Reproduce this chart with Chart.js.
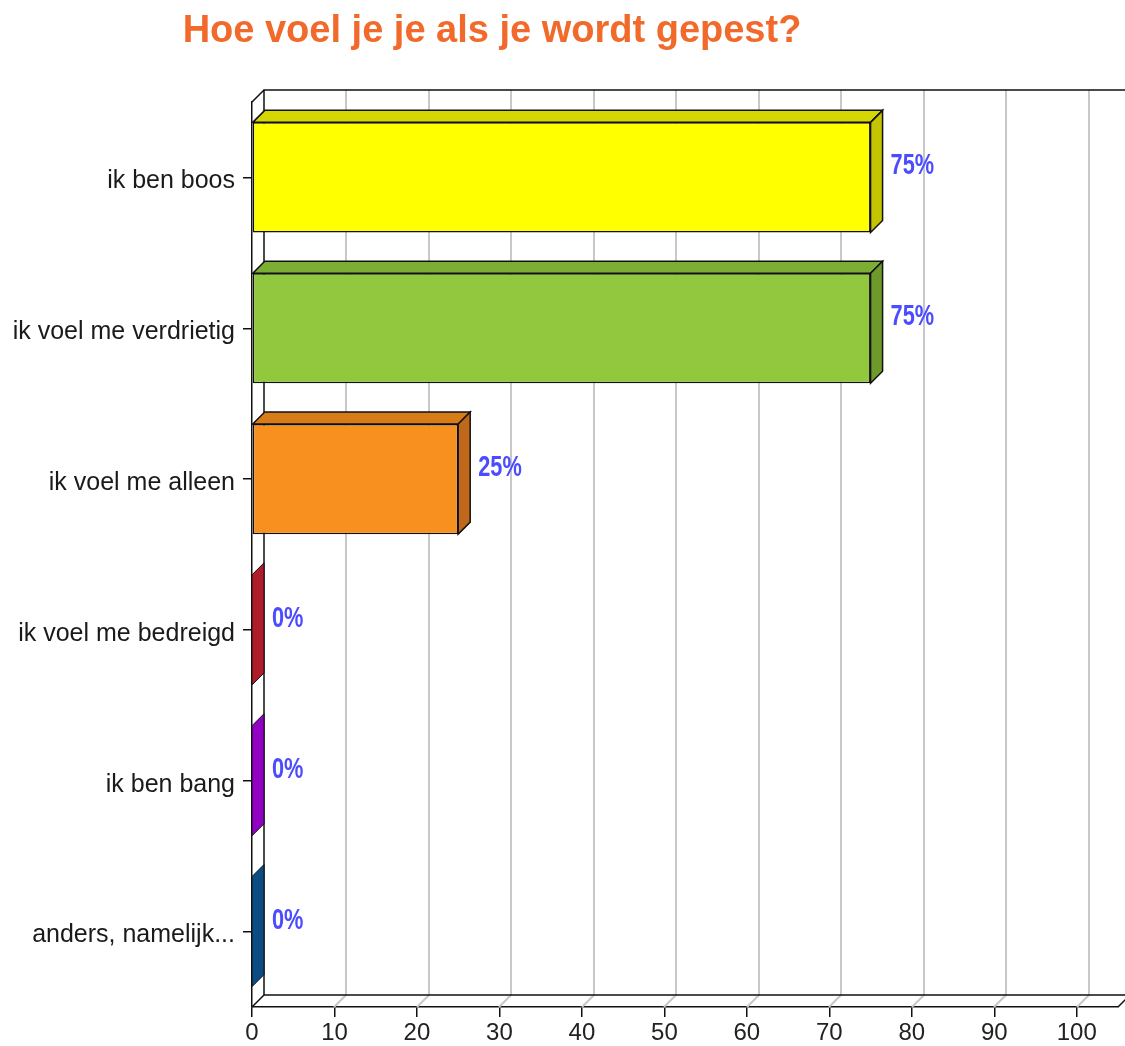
<!DOCTYPE html>
<html>
<head>
<meta charset="utf-8">
<script src="https://cdn.jsdelivr.net/npm/chart.js@4/dist/chart.umd.min.js"></script>
<style>
  html, body { margin: 0; padding: 0; background: #ffffff; }
  canvas { display: block; }
</style>
</head>
<body>
<canvas id="c" width="1125" height="1046"></canvas>
<script>
const chartTitle = 'Hoe voel je je als je wordt gepest?';
const categories = ['ik ben boos', 'ik voel me verdrietig', 'ik voel me alleen', 'ik voel me bedreigd', 'ik ben bang', 'anders, namelijk...'];
const values = [75, 75, 25, 0, 0, 0];
const xTicks = [0, 10, 20, 30, 40, 50, 60, 70, 80, 90, 100];

const frontColors = ['#FFFF00', '#92C83E', '#F7901E', '#B01C2A', '#9200C4', '#0C4C84'];
const topColors   = ['#D6D600', '#7DAE34', '#D87C18', '#8E1522', '#7400A0', '#083C6A'];
const sideColors  = ['#C4C400', '#6E9A2C', '#C0681A', '#8E1522', '#7400A0', '#083C6A'];

const DEPTH = 12;

const threeD = {
  id: 'threeD',
  beforeDatasetsDraw(chart) {
    const { ctx, chartArea } = chart;
    const { left, right, top, bottom } = chartArea;
    const x = chart.scales.x;
    const d = DEPTH;
    ctx.save();
    ctx.strokeStyle = '#c8c8c8';
    ctx.lineWidth = 2;
    xTicks.forEach(v => {
      if (v === 0) return;
      const px = Math.round(x.getPixelForValue(v));
      ctx.beginPath();
      ctx.moveTo(px, bottom);
      ctx.lineTo(px + d, bottom - d);
      ctx.lineTo(px + d, top - d);
      ctx.stroke();
    });
    ctx.strokeStyle = '#111';
    ctx.lineWidth = 1.5;
    ctx.beginPath();
    ctx.moveTo(left + d, bottom - d);
    ctx.lineTo(left + d, top - d);
    ctx.lineTo(right + d, top - d);
    ctx.moveTo(left + d, bottom - d);
    ctx.lineTo(right + d, bottom - d);
    ctx.moveTo(left, top);
    ctx.lineTo(left + d, top - d);
    ctx.moveTo(left, bottom);
    ctx.lineTo(left + d, bottom - d);
    ctx.moveTo(right, bottom);
    ctx.lineTo(right + d, bottom - d);
    ctx.stroke();
    ctx.restore();
  },
  afterDatasetsDraw(chart) {
    const { ctx } = chart;
    const d = DEPTH;
    const meta = chart.getDatasetMeta(0);
    ctx.save();
    meta.data.forEach((el, i) => {
      const p = el.getProps(['x', 'y', 'base', 'height'], true);
      const t = p.y - p.height / 2;
      const b = p.y + p.height / 2;
      const x0 = p.base, x1 = p.x;
      ctx.lineWidth = 1.5;
      ctx.strokeStyle = '#111';
      if (values[i] > 0) {
        ctx.beginPath();
        ctx.moveTo(x0, t);
        ctx.lineTo(x0 + d, t - d);
        ctx.lineTo(x1 + d, t - d);
        ctx.lineTo(x1, t);
        ctx.closePath();
        ctx.fillStyle = topColors[i];
        ctx.fill();
        ctx.stroke();
        ctx.beginPath();
        ctx.moveTo(x1, t);
        ctx.lineTo(x1 + d, t - d);
        ctx.lineTo(x1 + d, b - d);
        ctx.lineTo(x1, b);
        ctx.closePath();
        ctx.fillStyle = sideColors[i];
        ctx.fill();
        ctx.stroke();
      } else {
        ctx.beginPath();
        ctx.moveTo(x1, t);
        ctx.lineTo(x1 + d, t - d);
        ctx.lineTo(x1 + d, b - d);
        ctx.lineTo(x1, b);
        ctx.closePath();
        ctx.fillStyle = frontColors[i];
        ctx.fill();
        ctx.lineWidth = 1;
        ctx.stroke();
      }
      // value label (condensed bold)
      ctx.save();
      ctx.translate(x1 + d + 8, p.y - d + 1);
      ctx.scale(0.75, 1);
      ctx.font = 'bold 29px "Liberation Sans", Arial, sans-serif';
      ctx.fillStyle = '#4B4BFF';
      ctx.textAlign = 'left';
      ctx.textBaseline = 'middle';
      ctx.fillText(values[i] + '%', 0, 0);
      ctx.restore();
    });
    ctx.restore();
  },
  afterDraw(chart) {
    const { ctx } = chart;
    ctx.save();
    ctx.font = 'bold 38px "Liberation Sans", Arial, sans-serif';
    ctx.fillStyle = '#F26A2B';
    ctx.textAlign = 'center';
    ctx.textBaseline = 'alphabetic';
    ctx.fillText(chartTitle, 492, 42);
    ctx.restore();
  }
};

new Chart(document.getElementById('c'), {
  type: 'bar',
  data: {
    labels: categories,
    datasets: [{
      data: values,
      backgroundColor: frontColors,
      borderColor: '#111',
      borderWidth: 1.5,
      borderSkipped: false,
      barPercentage: 1,
      categoryPercentage: 0.73
    }]
  },
  options: {
    indexAxis: 'y',
    responsive: false,
    animation: false,
    devicePixelRatio: 1,
    layout: { padding: { top: 102, right: 7, bottom: 0, left: 0 } },
    plugins: {
      legend: { display: false },
      title: { display: false },
      tooltip: { enabled: false }
    },
    scales: {
      x: {
        type: 'linear',
        min: 0,
        max: 105,
        afterBuildTicks(s) { s.ticks = xTicks.map(v => ({ value: v })); },
        afterFit(s) { s.height = 39; },
        grid: { drawOnChartArea: false, drawTicks: true, tickLength: 10, color: '#111', lineWidth: 1.5 },
        border: { display: true, color: '#111', width: 1.5 },
        ticks: {
          font: { family: '"Liberation Sans", Arial, sans-serif', size: 24 },
          color: '#222',
          padding: 2,
          maxRotation: 0
        }
      },
      y: {
        type: 'category',
        afterFit(s) { s.width = 252; },
        grid: { drawOnChartArea: false, drawTicks: true, tickLength: 9, color: '#111', lineWidth: 1.5, offset: false },
        border: { display: true, color: '#111', width: 1.5 },
        ticks: {
          font: { family: '"Liberation Sans", Arial, sans-serif', size: 25 },
          color: '#1a1a1a',
          padding: 8,
          labelOffset: 4
        }
      }
    }
  },
  plugins: [threeD]
});
</script>
</body>
</html>
